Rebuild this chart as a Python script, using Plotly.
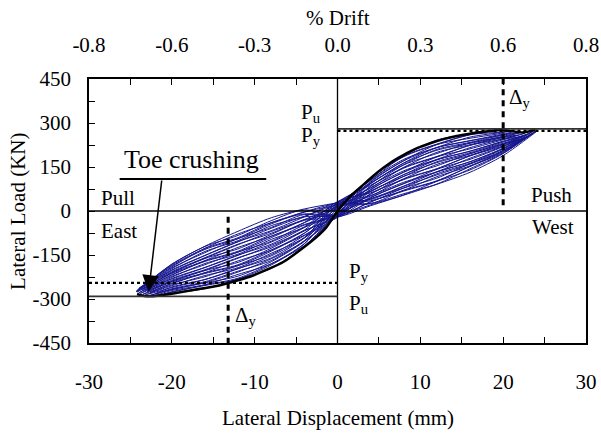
import plotly.graph_objects as go

# ---------------- data ----------------
push_grid = [4, 8, 12, 16, 20]          # displacement (mm) where branch loads were read
pull_grid = [-4, -8, -12, -16, -20]

# load (kN) at zero displacement when crossing upward (before each push) and downward (after each push)
zero_up = [0, 18, 8, 26, 14, 30, 20, 10, 27, 16, 32, 12, 24, 15, 29, 22, 19, 26, 28]
zero_down = [-4, -12, -8, -17, -6, -20, -10, -15, -22, -9, -18, -13, -20, -7, -16, -21, -14, -19]

push_tip_x = [19.6, 20.4, 21.0, 21.6, 22.2, 21.8, 22.6, 22.3, 23.0, 22.7, 23.3, 23.0, 23.5, 23.2, 23.7, 23.4, 23.9, 24.1]
push_tip_y = [277, 274, 270, 266, 268, 258, 265, 252, 262, 248, 266, 255, 270, 258, 268, 262, 272, 273]

push_load = [
    [115, 188, 242, 262, None],
    [105, 187, 228, 260, 270],
    [106, 176, 217, 252, 268],
    [95, 164, 216, 239, 262],
    [93, 163, 207, 231, 255],
    [88, 149, 200, 226, 253],
    [78, 148, 186, 224, 246],
    [80, 137, 176, 216, 245],
    [68, 124, 174, 204, 238],
    [66, 124, 165, 195, 231],
    [62, 110, 159, 190, 229],
    [51, 109, 144, 188, 222],
    [53, 98, 134, 180, 221],
    [42, 85, 133, 168, 214],
    [39, 84, 123, 160, 207],
    [35, 71, 117, 154, 205],
    [25, 70, 103, 152, 199],
    [26, 59, 92, 144, 197],
]
push_unload = [
    [112, 185, 227, 260, None],
    [101, 172, 226, 248, 267],
    [98, 171, 216, 240, 260],
    [94, 158, 210, 234, 259],
    [84, 157, 196, 232, 252],
    [85, 146, 185, 224, 250],
    [74, 133, 184, 212, 243],
    [72, 132, 175, 204, 237],
    [67, 118, 168, 199, 235],
    [57, 118, 154, 196, 228],
    [59, 107, 144, 188, 226],
    [47, 94, 142, 176, 219],
    [45, 93, 133, 168, 213],
    [41, 79, 127, 163, 211],
    [30, 78, 112, 161, 204],
    [32, 68, 102, 152, 202],
    [21, 55, 101, 140, 196],
    [18, 54, 91, 132, 189],
]

pull_tip_x = [-21.5, -22.3, -22.8, -22.0, -23.2, -22.6, -23.5, -23.0, -23.8, -23.3, -24.0, -23.6, -24.2, -23.9, -24.3, -24.0, -24.2, -24.3]
pull_tip_y = [-289, -291, -289, -282, -286, -278, -284, -274, -281, -270, -279, -268, -276, -266, -274, -264, -271, -275]

pull_load = [
    [-120, -196, -232, -265, -281],
    [-118, -180, -229, -252, -277],
    [-104, -173, -222, -245, -268],
    [-102, -169, -205, -241, -265],
    [-92, -153, -197, -234, -261],
    [-84, -149, -186, -224, -252],
    [-82, -133, -183, -211, -248],
    [-68, -127, -175, -203, -240],
    [-66, -122, -159, -200, -236],
    [-56, -106, -151, -193, -232],
    [-48, -103, -140, -183, -223],
    [-46, -86, -137, -170, -219],
    [-32, -80, -129, -162, -211],
    [-30, -76, -113, -159, -207],
    [-20, -59, -105, -152, -203],
    [-12, -56, -94, -142, -194],
    [-10, -40, -91, -128, -191],
    [4, -33, -83, -121, -182],
]
pull_unload = [
    [-112, -184, -232, -254, -275],
    [-111, -180, -216, -251, -271],
    [-101, -163, -208, -244, -267],
    [-92, -160, -196, -233, -259],
    [-90, -144, -193, -220, -255],
    [-76, -137, -186, -213, -246],
    [-75, -133, -170, -210, -242],
    [-65, -117, -161, -202, -239],
    [-56, -113, -150, -192, -230],
    [-54, -97, -147, -179, -226],
    [-40, -91, -140, -172, -217],
    [-39, -86, -124, -169, -213],
    [-29, -70, -115, -161, -210],
    [-20, -67, -104, -151, -201],
    [-18, -50, -101, -138, -197],
    [-4, -44, -94, -131, -188],
    [-3, -40, -78, -127, -185],
    [7, -23, -69, -120, -181],
]

env_push_x = [0, 1.5, 3.1, 4.7, 6.3, 8.0, 9.6, 11.2, 12.8, 14.4, 15.6, 17.6, 19.6, 20.8, 22.4, 23.9]
env_push_y = [0, 49, 89, 129, 163, 191, 214, 231, 245, 256, 262, 270, 276, 273, 268, 276]
env_pull_x = [0, -1.3, -2.5, -4.5, -6.5, -8.6, -10.6, -12.6, -14.6, -16.6, -19.0, -21.0, -22.5, -23.5, -24.2]
env_pull_y = [0, -54, -88, -133, -173, -201, -224, -241, -256, -265, -277, -286, -291, -289, -283]

Pu_push, Py_push = 280, 273
Pu_pull, Py_pull = -291, -245
dy_push, dy_pull = 20.0, -13.2

x_ticks = [-30, -20, -10, 0, 10, 20, 30]
x_labels = ['-30', '-20', '-10', '0', '10', '20', '30']
drift_labels = ['-0.8', '-0.6', '-0.3', '0.0', '0.3', '0.6', '0.8']
y_ticks = [-450, -300, -150, 0, 150, 300, 450]
y_labels = ['-450', '-300', '-150', '0', '150', '300', '450']

# ---------------- build hysteresis path ----------------
hx, hy = [], []
for i in range(len(push_tip_x)):
    hx.append(0); hy.append(zero_up[i])
    for gx, v in zip(push_grid, push_load[i]):
        if v is not None:
            hx.append(gx); hy.append(v)
    hx.append(push_tip_x[i]); hy.append(push_tip_y[i])
    for gx, v in reversed(list(zip(push_grid, push_unload[i]))):
        if v is not None:
            hx.append(gx); hy.append(v)
    hx.append(0); hy.append(zero_down[i])
    for gx, v in zip(pull_grid, pull_load[i]):
        hx.append(gx); hy.append(v)
    hx.append(pull_tip_x[i]); hy.append(pull_tip_y[i])
    for gx, v in reversed(list(zip(pull_grid, pull_unload[i]))):
        hx.append(gx); hy.append(v)
hx.append(0); hy.append(zero_up[-1])

env_x = env_pull_x[::-1] + env_push_x[1:]
env_y = env_pull_y[::-1] + env_push_y[1:]

FONT = "Liberation Serif"
BLUE = "#16168e"

fig = go.Figure()
fig.add_trace(go.Scatter(x=hx, y=hy, mode="lines",
                         line=dict(color=BLUE, width=1, shape="spline", smoothing=0.8),
                         hoverinfo="skip", showlegend=False))
fig.add_trace(go.Scatter(x=env_x, y=env_y, mode="lines",
                         line=dict(color="black", width=2.5, shape="spline", smoothing=0.6),
                         hoverinfo="skip", showlegend=False))
# trace bound to the top (% drift) axis
fig.add_trace(go.Scatter(x=[-30, 30], y=[0, 0], xaxis="x2", mode="lines",
                         line=dict(width=0), hoverinfo="skip", showlegend=False))

shapes = [
    dict(type="line", x0=-30, x1=30, y0=0, y1=0, xref="x", yref="y", line=dict(color="black", width=1.3)),
    dict(type="line", x0=0, x1=0, y0=-450, y1=450, xref="x", yref="y", line=dict(color="black", width=1.3)),
    dict(type="line", x0=0, x1=30, y0=Pu_push, y1=Pu_push, xref="x", yref="y", line=dict(color="#333", width=1.6)),
    dict(type="line", x0=0, x1=30, y0=Py_push, y1=Py_push, xref="x", yref="y", line=dict(color="black", width=2.2, dash="dot")),
    dict(type="line", x0=-30, x1=0, y0=Pu_pull, y1=Pu_pull, xref="x", yref="y", line=dict(color="#333", width=1.6)),
    dict(type="line", x0=-30, x1=0, y0=Py_pull, y1=Py_pull, xref="x", yref="y", line=dict(color="black", width=2.2, dash="dot")),
    dict(type="line", x0=dy_push, x1=dy_push, y0=20, y1=450, xref="x", yref="y", line=dict(color="black", width=3, dash="6px,5px")),
    dict(type="line", x0=dy_pull, x1=dy_pull, y0=-20, y1=-450, xref="x", yref="y", line=dict(color="black", width=3, dash="6px,5px")),
    dict(type="line", x0=-26.3, x1=-8.6, y0=109, y1=109, xref="x", yref="y", line=dict(color="black", width=2)),
]

tf = dict(family=FONT, size=21, color="black")
ann = [
    dict(x=-3.2, y=334, text="P<sub>u</sub>"),
    dict(x=-3.2, y=256, text="P<sub>y</sub>"),
    dict(x=22.0, y=385, text="Δ<sub>y</sub>"),
    dict(x=28.6, y=55, text="Push", xanchor="right"),
    dict(x=-28.8, y=44, text="Pull", xanchor="left"),
    dict(x=-28.8, y=-68, text="East", xanchor="left"),
    dict(x=28.8, y=-55, text="West", xanchor="right"),
    dict(x=2.6, y=-208, text="P<sub>y</sub>"),
    dict(x=2.6, y=-317, text="P<sub>u</sub>"),
    dict(x=-11.0, y=-358, text="Δ<sub>y</sub>"),
]
annotations = []
for a in ann:
    d = dict(xref="x", yref="y", showarrow=False, font=tf, xanchor="center", yanchor="middle")
    d.update(a)
    annotations.append(d)
annotations.append(dict(xref="x", yref="y", x=-17.6, y=174, text="Toe crushing", showarrow=False,
                        font=dict(family=FONT, size=26, color="black")))
annotations.append(dict(xref="x", yref="y", x=-22.8, y=-275, ax=-21.2, ay=109, axref="x", ayref="y",
                        text="", showarrow=True, arrowhead=2, arrowsize=2.2, arrowwidth=1.5,
                        arrowcolor="black"))
annotations.append(dict(xref="paper", yref="paper", x=0.5, y=-0.284, text="Lateral Displacement (mm)",
                        showarrow=False, font=tf, xanchor="center", yanchor="middle"))
annotations.append(dict(xref="paper", yref="paper", x=-0.143, y=0.5, text="Lateral Load (KN)",
                        showarrow=False, font=tf, textangle=-90, xanchor="center", yanchor="middle"))
annotations.append(dict(xref="paper", yref="paper", x=0.5, y=1.231, text="% Drift",
                        showarrow=False, font=tf, xanchor="center", yanchor="middle"))

minor_x = dict(dtick=5, ticks="inside", ticklen=6, tickwidth=1.3, tickcolor="black", showgrid=False)

fig.update_layout(
    width=601, height=435,
    margin=dict(l=89, r=15, t=79, b=92, autoexpand=False),
    plot_bgcolor="white", paper_bgcolor="white",
    font=tf,
    showlegend=False,
    shapes=shapes,
    annotations=annotations,
    xaxis=dict(range=[-30, 30], tickvals=x_ticks, ticktext=x_labels, ticks="inside", ticklen=6, tickwidth=1.3,
               tickcolor="black", showline=True, linecolor="black", linewidth=1.5, mirror=True,
               showgrid=False, zeroline=False, tickfont=tf, ticklabelstandoff=19, automargin=False,
               minor=minor_x),
    xaxis2=dict(range=[-30, 30], overlaying="x", side="top", anchor="y", tickvals=x_ticks,
                ticktext=drift_labels, ticks="inside", ticklen=6, tickwidth=1.3, tickcolor="black",
                showline=False, showgrid=False, zeroline=False, tickfont=tf, ticklabelstandoff=22,
                automargin=False, minor=minor_x),
    yaxis=dict(range=[-450, 450], tickvals=y_ticks, ticktext=y_labels, ticks="inside", ticklen=6, tickwidth=1.3,
               tickcolor="black", showline=True, linecolor="black", linewidth=1.5, mirror=True,
               showgrid=False, zeroline=False, tickfont=tf, ticklabelstandoff=12, automargin=False,
               minor=dict(dtick=75, ticks="inside", ticklen=6, tickwidth=1.3, tickcolor="black", showgrid=False)),
)

# remove the browser's default 8px page margin so the 601x435 figure fills the window exactly
fig.write_html("out.html", config={"displayModeBar": False},
               post_script="document.body.style.margin='0px';document.body.style.overflow='hidden';")
